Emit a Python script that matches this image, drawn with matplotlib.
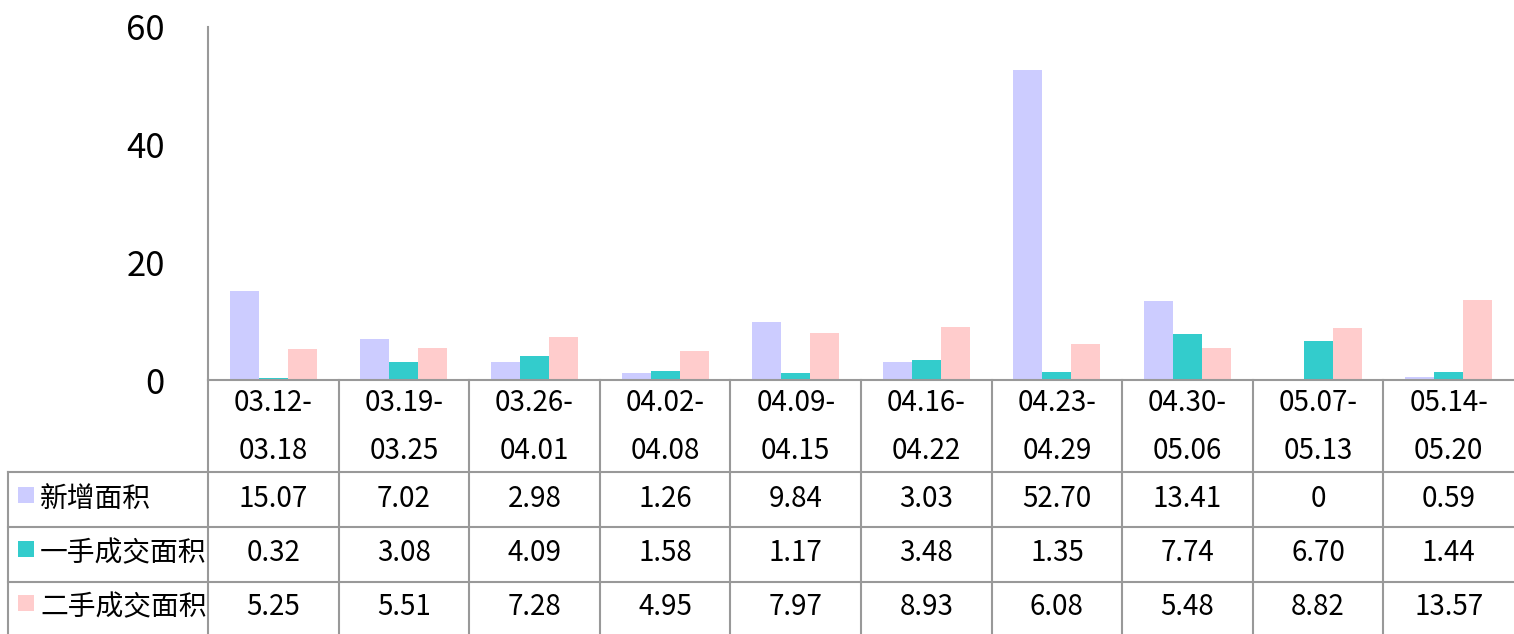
import numpy as np
import matplotlib.pyplot as plt
import matplotlib.transforms as mtransforms

plt.rcParams['font.family'] = ['Noto Sans CJK SC', 'DejaVu Sans']

# data
periods = ['03.12-\n03.18', '03.19-\n03.25', '03.26-\n04.01', '04.02-\n04.08', '04.09-\n04.15',
           '04.16-\n04.22', '04.23-\n04.29', '04.30-\n05.06', '05.07-\n05.13', '05.14-\n05.20']
series_names = ['新增面积', '一手成交面积', '二手成交面积']
new_area = [15.07, 7.02, 2.98, 1.26, 9.84, 3.03, 52.70, 13.41, 0, 0.59]
first_hand = [0.32, 3.08, 4.09, 1.58, 1.17, 3.48, 1.35, 7.74, 6.70, 1.44]
second_hand = [5.25, 5.51, 7.28, 4.95, 7.97, 8.93, 6.08, 5.48, 8.82, 13.57]
new_area_txt = ['15.07', '7.02', '2.98', '1.26', '9.84', '3.03', '52.70', '13.41', '0', '0.59']
first_hand_txt = ['0.32', '3.08', '4.09', '1.58', '1.17', '3.48', '1.35', '7.74', '6.70', '1.44']
second_hand_txt = ['5.25', '5.51', '7.28', '4.95', '7.97', '8.93', '6.08', '5.48', '8.82', '13.57']

colors = ['#CCCCFF', '#33CCCC', '#FFCCCC']
grid_color = '#999999'

W, H = 1514, 634
fig = plt.figure(figsize=(W / 100, H / 100), dpi=100)

# axes placement in pixels
x0, x1 = 208, 1514
y_zero, y_top = 380, 27
ax = fig.add_axes([x0 / W, (H - y_zero) / H, (x1 - x0) / W, (y_zero - y_top) / H])

n = len(periods)
x = np.arange(n)
bw = 0.222
for k, vals in enumerate([new_area, first_hand, second_hand]):
    ax.bar(x + (k - 1) * bw, vals, width=bw, color=colors[k], edgecolor='none', zorder=2)

ax.set_xlim(-0.5, n - 0.5)
ax.set_ylim(0, 60)
ax.set_yticks([0, 20, 40, 60])
ax.tick_params(axis='y', length=0, labelsize=25, pad=31)
ax.set_xticks([])
for s in ['top', 'right']:
    ax.spines[s].set_visible(False)
for s in ['left', 'bottom']:
    ax.spines[s].set_color(grid_color)
    ax.spines[s].set_linewidth(1.5)

# data table below the axes: x in data coords, y in figure pixels (from top)
def fy(py):
    return (H - py) / H

trans = mtransforms.blended_transform_factory(ax.transData, fig.transFigure)
fig_tr = fig.transFigure

row_lines = [380, 472, 527, 582, 634]
row_centers = [499, 553, 607]
lw = 1.5
fs = 20

# vertical lines between categories
for i in range(n):
    fig.add_artist(plt.Line2D([i - 0.5, i - 0.5], [fy(380), fy(634)], transform=trans,
                              color=grid_color, lw=lw))
# left border of legend column
fig.add_artist(plt.Line2D([8 / W, 8 / W], [fy(472), fy(634)], transform=fig_tr, color=grid_color, lw=lw))
# horizontal lines
for py in row_lines[1:4]:
    fig.add_artist(plt.Line2D([8 / W, 1], [fy(py), fy(py)], transform=fig_tr, color=grid_color, lw=lw))

# header
for i, p in enumerate(periods):
    fig.text(i, fy(427), p, transform=trans, ha='center', va='center', fontsize=fs,
             linespacing=1.75)

# rows
for r, (name, txts) in enumerate(zip(series_names, [new_area_txt, first_hand_txt, second_hand_txt])):
    cy = row_centers[r]
    fig.add_artist(plt.Rectangle((18 / W, fy(cy + 4)), 16 / W, 16 / H, transform=fig_tr,
                                 facecolor=colors[r], edgecolor='none'))
    fig.text(40 / W, fy(cy), name, transform=fig_tr, ha='left', va='center', fontsize=fs)
    for i, t in enumerate(txts):
        fig.text(i, fy(cy), t, transform=trans, ha='center', va='center', fontsize=fs)

fig.savefig('out.png', dpi=100)
